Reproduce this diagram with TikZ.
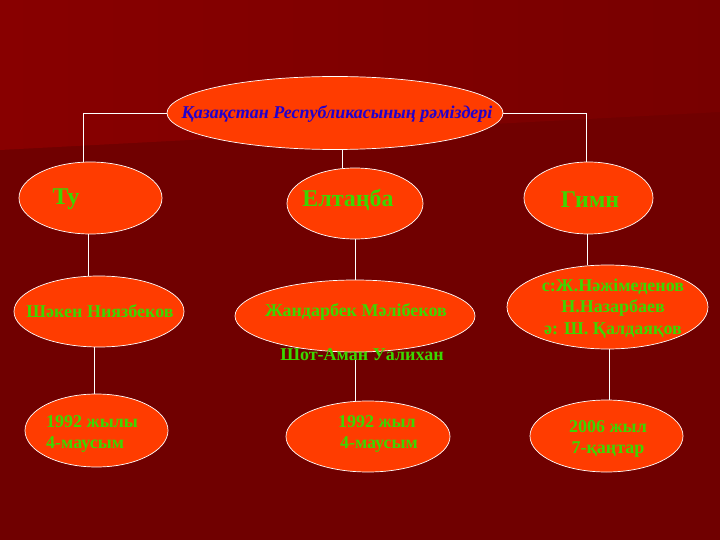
\documentclass[tikz,border=0pt]{standalone}
\usepackage{fontspec}
\setmainfont{Liberation Serif}
\usetikzlibrary{shapes.geometric}
\definecolor{bgdark}{RGB}{112,0,0}
\definecolor{bgtopl}{RGB}{136,0,0}
\definecolor{bgtopr}{RGB}{120,0,0}
\definecolor{oval}{RGB}{255,60,0}
\definecolor{grn}{RGB}{60,215,0}
\definecolor{blu}{RGB}{34,0,204}
\tikzset{
  oval/.style={ellipse, draw=white, line width=0.7pt, fill=oval, inner sep=0pt},
  conn/.style={draw=white, line width=0.8pt},
  big/.style={text=grn, font=\fontsize{24}{28}\selectfont\bfseries, inner sep=0pt},
  mid/.style={text=grn, font=\fontsize{18}{21.8}\selectfont\bfseries, inner sep=0pt},
  small/.style={text=grn, font=\fontsize{18}{21}\selectfont\bfseries, inner sep=0pt},
}
\begin{document}
\begin{tikzpicture}[x=1pt,y=-1pt]
\useasboundingbox (0,0) rectangle (720,540);
\fill[bgdark] (0,0) rectangle (720,540);
\shade[left color=bgtopl, right color=bgtopr] (0,0) -- (720,0) -- (720,112) -- (0,150) -- cycle;

% ovals
\node[oval, minimum width=336pt, minimum height=73pt] (title) at (335,113) {};
\node[oval, minimum width=143pt, minimum height=72pt] (tu) at (90.5,198) {};
\node[oval, minimum width=136pt, minimum height=71pt] (eltan) at (355,203.5) {};
\node[oval, minimum width=129pt, minimum height=72pt] (gimn) at (588.5,198) {};
\node[oval, minimum width=170pt, minimum height=71pt] (shaken) at (99,311.5) {};
\node[oval, minimum width=240pt, minimum height=72pt] (zhand) at (355,316) {};
\node[oval, minimum width=201pt, minimum height=84pt] (nazh) at (607.5,307) {};
\node[oval, minimum width=143pt, minimum height=73pt] (d1) at (96.5,430.5) {};
\node[oval, minimum width=164pt, minimum height=71pt] (d2) at (368,436.5) {};
\node[oval, minimum width=153pt, minimum height=72pt] (d3) at (606.5,436) {};

% connectors
\draw[conn] (title.west) -| ([xshift=-7.5pt]tu.north);
\draw[conn] (title.east) -| ([xshift=-2.5pt]gimn.north);
\draw[conn] ([xshift=7pt]title.south) -- ([xshift=7pt]title.south |- eltan.north);
\draw[conn] ([xshift=-2pt]tu.south) -- ([xshift=-2pt]tu.south |- shaken.north);
\draw[conn] (eltan.south) -- (eltan.south |- zhand.north);
\draw[conn] ([xshift=-1.5pt]gimn.south) -- ([xshift=-1.5pt]gimn.south |- nazh.north);
\draw[conn] ([xshift=-2.5pt]d1.north) -- ([xshift=-2.5pt]d1.north |- shaken.south);
\draw[conn] (zhand.south) -- (zhand.south |- d2.north);
\draw[conn] ([xshift=2pt]nazh.south) -- ([xshift=2pt]nazh.south |- d3.north);

% texts
\node[text=blu, font=\fontsize{18}{20}\selectfont\bfseries\itshape, inner sep=0pt] (titletxt) at (337,114) {Қазақстан Республикасының рәміздері};
\node[big] (tutxt) at (66,199) {Ту};
\node[big] (eltantxt) at (348,200) {Елтаңба};
\node[big] (gimntxt) at (590,200) {Гимн};
\node[mid] (shakentxt) at (100,311) {Шәкен Ниязбеков};
\node[mid] (zhandtxt) at (356,312) {Жандарбек Мәлібеков};
\node[mid] (shottxt) at (362,355) {Шот-Аман Уалихан};
\node[mid, align=center] (nazhtxt) at (613,308.5) {с:Ж.Нәжімеденов\\Н.Назарбаев\\ә: Ш. Қалдаяқов};
\node[small, align=left, anchor=west] (d1txt) at (46,433.5) {1992 жылы\\4-маусым};
\node[small, align=center] (d2txt) at (377,433.5) {1992 жыл\\\hspace*{4pt}4-маусым};
\node[small, align=center] (d3txt) at (608,438.5) {2006 жыл\\7-қаңтар};
\end{tikzpicture}
\end{document}
